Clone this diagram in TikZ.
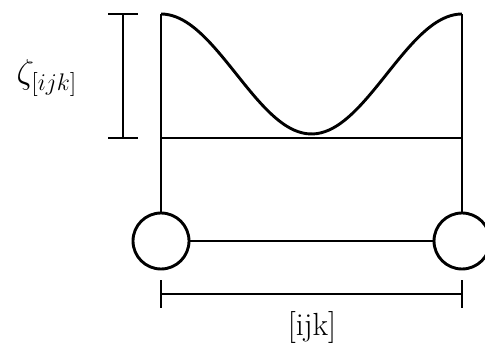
\documentclass[tikz,border=0pt]{standalone}
\begin{document}
\begin{tikzpicture}[x=0.5pt,y=-0.5pt,line width=1.45pt,
  joint/.style={circle,draw,inner sep=0pt,minimum size=28pt},
  lbl/.style={font=\fontsize{16}{19}\selectfont,inner sep=0pt}]
\useasboundingbox (0,0) rectangle (485,346);
% scale bar
\coordinate (sbT) at (123,14);
\coordinate (sbB) at (123,138);
\draw (sbT) -- (sbB);
\draw (108,14) -- (138,14);
\draw (108,138) -- (138,138);
\node[lbl,font=\fontsize{17.5}{20}\selectfont] (zeta) at (47,78) {$\zeta_{[ijk]}$};
% frame
\coordinate (lt) at (161,14);
\coordinate (rt) at (462,14);
\coordinate (lb) at (161,138);
\coordinate (rb) at (462,138);
\node[joint] (jl) at (161,241) {};
\node[joint] (jr) at (462,241) {};
\draw (lt) -- (jl.north);
\draw (rt) -- (jr.north);
\draw (lb) -- (rb);
\draw (jl) -- (jr);
% curve
\draw plot[domain=0:1,samples=80,smooth] ({161+301*\x},{14+60*(1-cos(360*\x))});
% dimension
\coordinate (dl) at (161,294);
\coordinate (dr) at (462,294);
\draw (dl) -- (dr);
\draw (161,280) -- (161,308);
\draw (462,280) -- (462,308);
\node[lbl] (dim) at (312,327) {[ijk]};
\end{tikzpicture}
\end{document}
